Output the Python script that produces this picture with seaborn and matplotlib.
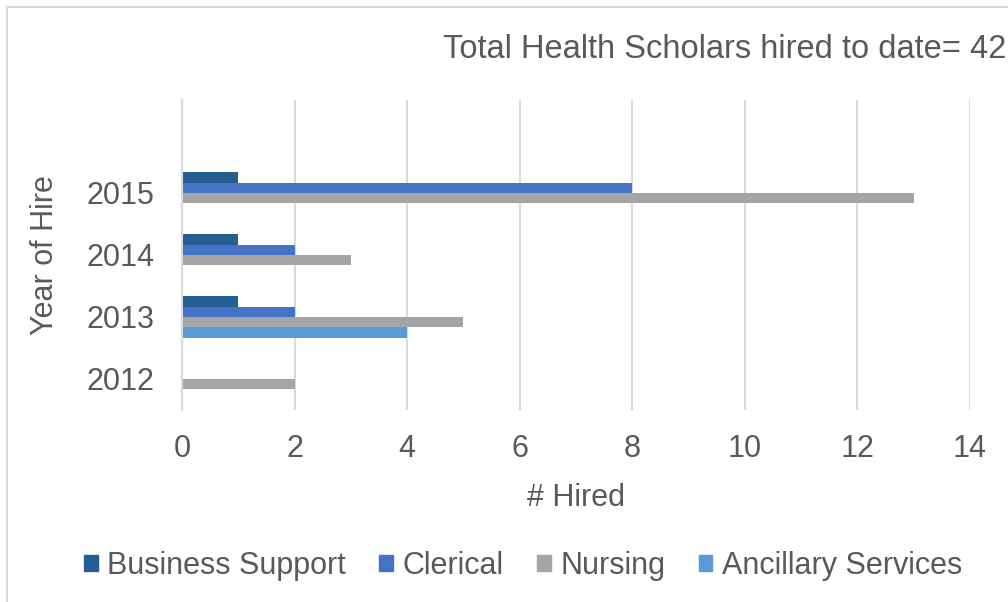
import matplotlib
matplotlib.use("Agg")
import matplotlib.pyplot as plt
import matplotlib.patches as mpatches
import seaborn as sns
import pandas as pd

years = ["2015", "2014", "2013", "2012"]
categories = ["Business Support", "Clerical", "Nursing", "Ancillary Services"]
business_support = [1, 1, 1, 0]
clerical = [8, 2, 2, 0]
nursing = [13, 3, 5, 2]
ancillary = [0, 0, 4, 0]
colors = ["#255E91", "#4472C4", "#A5A5A5", "#5B9BD5"]
x_ticks = [0, 2, 4, 6, 8, 10, 12, 14]

rows = []
for series_name, vals in zip(categories, [business_support, clerical, nursing, ancillary]):
    for y, v in zip(years, vals):
        rows.append({"Year": y, "Category": series_name, "Hired": v})
df = pd.DataFrame(rows)

sns.set_theme(style="white")
plt.rcParams["font.family"] = ["Liberation Sans", "DejaVu Sans"]
txt = "#595959"
grid = "#D9D9D9"
fs = 22

fig = plt.figure(figsize=(10.08, 6.02), dpi=100)
ax = fig.add_axes([182 / 1008, 1 - 410 / 602, (970 - 182) / 1008, 310 / 602])

order = [" "] + years
sns.barplot(data=df, y="Year", x="Hired", hue="Category", order=order,
            hue_order=categories, palette=colors, orient="h", width=0.67,
            linewidth=0, saturation=1, ax=ax, legend=False)

ax.set_xlim(0, 14)
ax.set_xticks(x_ticks)
ax.set_xticklabels([str(t) for t in x_ticks])
ax.set_yticks(range(1, 5))
ax.set_yticklabels(years)
for s in ["top", "right", "bottom"]:
    ax.spines[s].set_visible(False)
ax.spines["left"].set_color(grid)
ax.spines["left"].set_linewidth(1.5)
ax.xaxis.grid(True, color=grid, linewidth=1.5)
ax.set_axisbelow(True)
ax.tick_params(axis="both", length=0, labelsize=fs, colors=txt)
ax.tick_params(axis="x", pad=17)
ax.tick_params(axis="y", pad=20)
ax.set_xlabel("# Hired", fontsize=fs, color=txt, labelpad=14)
ax.set_ylabel("Year of Hire", fontsize=fs, color=txt, labelpad=19)

fig.text(1006 / 1008, 1 - 50 / 602, "Total Health Scholars hired to date= 42",
         ha="right", va="center", fontsize=23.5, color=txt)

handles = [mpatches.Patch(color=c, label=l) for c, l in zip(colors, categories)]
fig.legend(handles=handles, loc="center", bbox_to_anchor=(523 / 1008, 1 - 566 / 602),
           ncol=4, frameon=False, fontsize=fs, handlelength=0.45, handleheight=0.45,
           handletextpad=0.3, columnspacing=1.1, labelcolor=txt)

fig.patches.append(mpatches.Rectangle((7 / 1008, -0.1), 1.2, 1 - 7 / 602 + 0.1,
                                      transform=fig.transFigure, fill=False,
                                      edgecolor=grid, linewidth=1.5, figure=fig))

fig.savefig("out.png", dpi=100)
